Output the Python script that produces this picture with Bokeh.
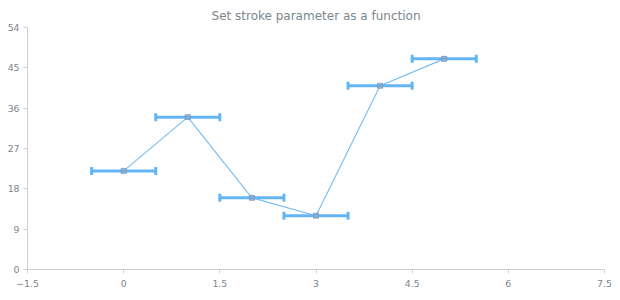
from bokeh.plotting import figure
from bokeh.models import ColumnDataSource, Whisker, TeeHead, FixedTicker, Range1d
from bokeh.embed import file_html
from bokeh.resources import INLINE

x_vals = [0, 1, 2, 3, 4, 5]
y_vals = [22, 34, 16, 12, 41, 47]
x_err = [0.5, 0.5, 0.5, 0.5, 0.5, 0.5]
x_ticks = [-1.5, 0, 1.5, 3, 4.5, 6, 7.5]
y_ticks = [0, 9, 18, 27, 36, 45, 54]

src = ColumnDataSource(dict(
    x=x_vals, y=y_vals,
    lower=[a - e for a, e in zip(x_vals, x_err)],
    upper=[a + e for a, e in zip(x_vals, x_err)],
))

p = figure(width=620, height=300, output_backend="svg", toolbar_location=None,
           x_range=Range1d(-1.5, 7.5), y_range=Range1d(0, 54),
           min_border_left=27, min_border_right=16, min_border_top=27, min_border_bottom=31,
           title="Set stroke parameter as a function")
p.title.align = "center"
p.title.text_font = "DejaVu Sans"
p.title.text_font_size = "12px"
p.title.text_font_style = "normal"
p.title.text_color = "#7c868e"
p.outline_line_color = None
p.grid.visible = False
p.background_fill_color = "white"
p.border_fill_color = "white"

for ax in (p.xaxis, p.yaxis):
    ax.axis_line_color = "#cecece"
    ax.major_tick_line_color = "#cecece"
    ax.minor_tick_line_color = None
    ax.major_label_text_color = "#7c868e"
    ax.major_label_text_font = "DejaVu Sans"
    ax.major_label_text_font_size = "7pt"
    ax.major_tick_out = 4
    ax.major_tick_in = 0
p.xaxis.ticker = FixedTicker(ticks=x_ticks)
p.yaxis.ticker = FixedTicker(ticks=y_ticks)
p.xaxis.major_label_standoff = 6
p.yaxis.major_label_standoff = 4

p.line("x", "y", source=src, line_color="#64b5f6", line_width=1.1, line_alpha=0.9)

w = Whisker(source=src, base="y", lower="lower", upper="upper", dimension="width",
            line_color="#64b5f6", line_width=3,
            lower_head=TeeHead(size=8, line_color="#64b5f6", line_width=3),
            upper_head=TeeHead(size=8, line_color="#64b5f6", line_width=3))
p.add_layout(w)

p.scatter("x", "y", source=src, marker="square", size=5,
          fill_color="#8aa9c6", fill_alpha=0.8, line_color="#6f93b8", line_width=1, line_alpha=0.7)

open("out.html", "w").write(file_html(p, INLINE))
